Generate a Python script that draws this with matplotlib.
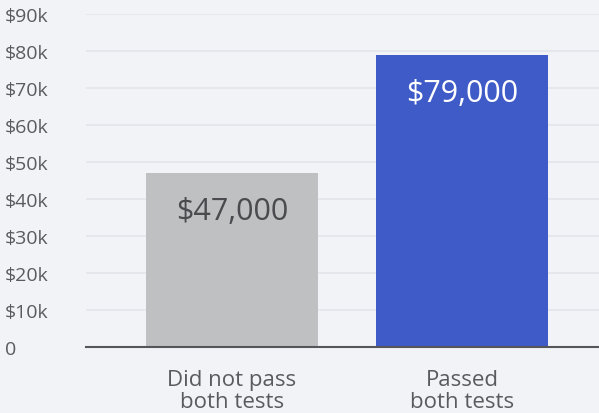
import matplotlib.pyplot as plt
from matplotlib.ticker import FixedLocator

categories = ["Did not pass\nboth tests", "Passed\nboth tests"]
values = [47000, 79000]
value_labels = ["$47,000", "$79,000"]
tick_values = [0, 10000, 20000, 30000, 40000, 50000, 60000, 70000, 80000, 90000]
tick_labels = ["0", "$10k", "$20k", "$30k", "$40k", "$50k", "$60k", "$70k", "$80k", "$90k"]

bg = "#f2f3f7"
bar_colors = ["#bfc0c2", "#3f5bc8"]
label_colors = ["#4a4a4f", "#ffffff"]
text_color = "#5a5a5f"

plt.rcParams["font.family"] = ["Open Sans", "DejaVu Sans"]

fig = plt.figure(figsize=(5.99, 4.14), dpi=100, facecolor=bg)
ax = fig.add_axes([86 / 599, 66 / 414, 513 / 599, (348 - 15.3) / 414])
ax.set_facecolor(bg)

x = list(range(len(categories)))
bars = ax.bar(x, values, width=0.748, color=bar_colors, zorder=3)
ax.set_xlim(-0.635, 1.596)
ax.set_ylim(0, 90000)

ax.yaxis.set_major_locator(FixedLocator(tick_values))
ax.set_yticklabels(tick_labels)
ax.grid(axis="y", color="#e4e5ea", linewidth=1.2, zorder=0)
ax.tick_params(axis="y", length=0, pad=81 * 0.72, labelsize=14, labelcolor=text_color)
for t in ax.get_yticklabels():
    t.set_horizontalalignment("left")

ax.set_xticks(x)
ax.set_xticklabels(categories, fontsize=16, color=text_color, linespacing=1.05)
ax.tick_params(axis="x", length=0, pad=16)

for s in ["top", "right", "left"]:
    ax.spines[s].set_visible(False)
ax.spines["bottom"].set_color("#55555a")
ax.spines["bottom"].set_linewidth(1.5)
ax.spines["bottom"].set_zorder(4)

for b, lab, c in zip(bars, value_labels, label_colors):
    ax.annotate(lab, (b.get_x() + b.get_width() / 2, b.get_height()),
                xytext=(0, -38), textcoords="offset pixels",
                ha="center", va="center", fontsize=22, color=c, zorder=5)

fig.savefig("out.png", dpi=100, facecolor=bg)
